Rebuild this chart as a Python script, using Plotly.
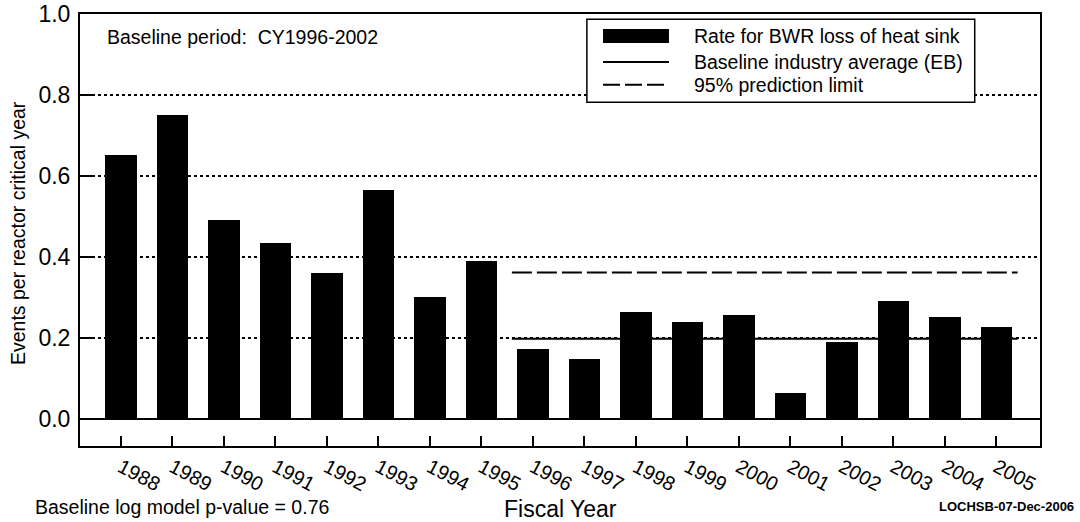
import plotly.graph_objects as go

# data
years = list(range(1988, 2006))
rates = [0.652, 0.750, 0.491, 0.435, 0.360, 0.565, 0.300, 0.390, 0.173,
         0.148, 0.264, 0.240, 0.257, 0.064, 0.190, 0.292, 0.252, 0.227]
baseline_years = list(range(1996, 2006))
baseline_avg = 0.198
pred_limit = 0.362
legend_labels = ['Rate for BWR loss of heat sink',
                 'Baseline industry average (EB)',
                 '95% prediction limit']

font = 'Liberation Sans, Arial, sans-serif'

fig = go.Figure()
fig.add_trace(go.Bar(x=years, y=rates, width=0.62,
                     marker=dict(color='black', line=dict(width=0)),
                     showlegend=False))

x_line = [baseline_years[0] - 0.41, baseline_years[-1] + 0.41]
fig.add_trace(go.Scatter(x=x_line, y=[baseline_avg] * 2, mode='lines',
                         line=dict(color='black', width=2), showlegend=False))
fig.add_trace(go.Scatter(x=x_line, y=[pred_limit] * 2, mode='lines',
                         line=dict(color='black', width=2, dash='20px,5px'),
                         showlegend=False))

fig.update_layout(
    width=1080, height=522,
    margin=dict(l=80, r=40, t=14, b=76),
    plot_bgcolor='white', paper_bgcolor='white',
    font=dict(family=font, color='black'),
    bargap=0,
)

fig.update_xaxes(
    range=[1987.204, 2005.845], automargin=False,
    tickvals=years, ticktext=[str(y) for y in years],
    tickangle=28, tickfont=dict(size=20, color='black'),
    ticks='inside', ticklen=10, tickwidth=1.5, tickcolor='black',
    showline=True, linecolor='black', linewidth=2, mirror=True,
    showgrid=False, zeroline=False,
)
fig.update_yaxes(
    range=[-0.0667, 1.0], automargin=False,
    tickvals=[0, 0.2, 0.4, 0.6, 0.8, 1.0], tickformat='.1f',
    tickfont=dict(size=23, color='black'), ticklabelstandoff=3,
    ticks='inside', ticklen=12, tickwidth=1.5, tickcolor='black',
    showline=True, linecolor='black', linewidth=2, mirror=True,
    showgrid=True, gridcolor='black', gridwidth=1.5, griddash='dot',
    zeroline=True, zerolinecolor='black', zerolinewidth=2,
)

# legend box drawn by hand (wide swatches like the original)
lx0, lx1, ly0, ly1 = 0.528, 0.932, 0.796, 0.988
sx0, sx1, tx = 0.5448, 0.6135, 0.6375
rows = [0.949, 0.889, 0.836]
fig.add_shape(type='rect', xref='paper', yref='paper', x0=lx0, x1=lx1, y0=ly0, y1=ly1,
              fillcolor='white', line=dict(color='black', width=1.5), layer='above')
fig.add_shape(type='rect', xref='paper', yref='paper', x0=sx0, x1=sx1,
              y0=rows[0] - 0.016, y1=rows[0] + 0.016,
              fillcolor='black', line=dict(width=0), layer='above')
fig.add_shape(type='line', xref='paper', yref='paper', x0=sx0, x1=sx1,
              y0=rows[1], y1=rows[1], line=dict(color='black', width=2), layer='above')
fig.add_shape(type='line', xref='paper', yref='paper', x0=sx0, x1=sx1,
              y0=rows[2], y1=rows[2], line=dict(color='black', width=2, dash='17px,5px'),
              layer='above')
for lab, ry in zip(legend_labels, rows):
    fig.add_annotation(text=lab, xref='paper', yref='paper', x=tx, y=ry,
                       xanchor='left', yanchor='middle', showarrow=False,
                       font=dict(size=19.5))

fig.add_annotation(text='Baseline period:  CY1996-2002', xref='paper', yref='paper',
                   x=0.026, y=0.947, xanchor='left', yanchor='middle',
                   showarrow=False, font=dict(size=19.5))
fig.add_annotation(text='Baseline log model p-value = 0.76', xref='paper', yref='paper',
                   x=-0.049, y=-0.141, xanchor='left', yanchor='middle',
                   showarrow=False, font=dict(size=19.5))
fig.add_annotation(text='<b>LOCHSB-07-Dec-2006</b>', xref='paper', yref='paper',
                   x=1.0375, y=-0.139, xanchor='right', yanchor='middle',
                   showarrow=False, font=dict(size=13))
fig.add_annotation(text='Fiscal Year', xref='paper', yref='paper',
                   x=0.5, y=-0.146, xanchor='center', yanchor='middle',
                   showarrow=False, font=dict(size=23))
fig.add_annotation(text='Events per reactor critical year', xref='paper', yref='paper',
                   x=-0.0646, y=0.493, xanchor='center', yanchor='middle',
                   textangle=-90, showarrow=False, font=dict(size=19.5))

# drop the default page margin so the figure fills the window
fig.write_html('out.html', config={'displayModeBar': False},
               post_script="document.body.style.margin='0px';")
